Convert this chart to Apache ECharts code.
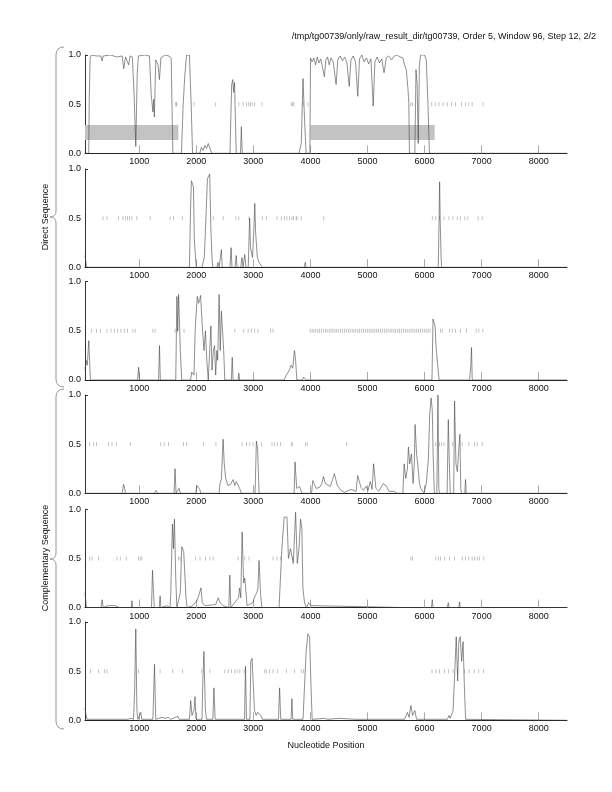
<!DOCTYPE html>
<html>
<head>
<meta charset="utf-8">
<script src="https://cdn.jsdelivr.net/npm/echarts@6/dist/echarts.min.js"></script>
<style>html,body{margin:0;padding:0;background:#fff}#c{width:612px;height:792px}</style>
</head>
<body>
<div id="c"></div>
<script>
const titleText = "/tmp/tg00739/only/raw_result_dir/tg00739, Order 5, Window 96, Step 12, 2/2";
const xTitle = "Nucleotide Position";
const groupLabels = ["Direct Sequence", "Complementary Sequence"];
const xTickValues = [1000, 2000, 3000, 4000, 5000, 6000, 7000, 8000];
const yTickValues = [0, 0.5, 1];
const xRange = [50, 8496];

// predicted coding regions (direct frame 1)
const predictedRegions = [[50, 1686], [4002, 6178]];

const direct1 = [[50,0],[115,0],[125,0.55],[140,0.97],[160,1.0],[250,0.99],[330,0.99],[350,0.94],[370,0.99],[500,1.0],[600,0.98],[700,0.99],[730,0.86],[760,0.98],[815,0.9],[840,0.99],[880,0.98],[910,0.6],[940,0.07],[965,0.8],[985,0.99],[1100,1.0],[1180,0.99],[1210,0.6],[1240,0.42],[1255,0.55],[1265,0.37],[1290,0.95],[1330,0.9],[1355,0.75],[1380,0.97],[1450,1.0],[1520,0.99],[1560,0.97],[1580,0.3],[1590,0],[1740,0],[1770,0.5],[1800,0.8],[1830,1.0],[1880,1.0],[1910,0.5],[1935,0],[2060,0],[2090,0.06],[2120,0.03],[2150,0.08],[2180,0.05],[2210,0.1],[2240,0.12],[2270,0],[2420,0],[2440,0.02],[2470,0],[2590,0],[2620,0.7],[2640,0.75],[2655,0.62],[2670,0.72],[2700,0],[2775,0],[2790,0.27],[2805,0],[3800,0],[3840,0.1],[3870,0.76],[3900,0.3],[3925,0],[3990,0],[4002,0.97],[4030,0.93],[4060,0.97],[4090,0.9],[4120,0.98],[4150,0.92],[4180,0.96],[4210,0.88],[4245,0.78],[4270,0.95],[4300,0.98],[4330,0.9],[4360,0.97],[4400,0.93],[4450,0.7],[4480,0.95],[4520,0.99],[4560,0.94],[4600,0.98],[4640,0.92],[4680,0.68],[4710,0.95],[4750,0.99],[4790,0.93],[4830,0.58],[4860,0.96],[4900,1.0],[4940,0.93],[4980,0.97],[5020,0.91],[5060,0.96],[5100,0.48],[5130,0.93],[5170,0.98],[5210,0.92],[5250,0.96],[5290,0.82],[5330,0.97],[5370,0.99],[5420,0.95],[5470,0.99],[5520,1.0],[5570,0.98],[5620,0.97],[5650,0.9],[5680,0.85],[5710,0.65],[5725,0.5],[5735,0],[5830,0],[5850,0.85],[5870,0.7],[5890,0.1],[5910,0.9],[5930,1.0],[6000,1.0],[6030,0.95],[6060,0.5],[6085,0],[8496,0]];

const direct2 = [[50,0.12],[65,0.1],[80,0],[1320,0],[1340,0.02],[1360,0],[1650,0],[1660,0.02],[1670,0],[1880,0],[1900,0.6],[1915,0.88],[1935,0.87],[1950,0.82],[1965,0.3],[1980,0.15],[2000,0],[2100,0],[2120,0.05],[2140,0.1],[2155,0.3],[2175,0.6],[2195,0.9],[2215,0.88],[2235,0.95],[2255,0.4],[2275,0.1],[2290,0],[2360,0],[2380,0.05],[2400,0],[2420,0],[2440,0.18],[2455,0],[2590,0],[2610,0.2],[2625,0],[2680,0],[2700,0.12],[2715,0],[2780,0],[2800,0.1],[2820,0],[2850,0.13],[2870,0],[2910,0],[2935,0.5],[2950,0.2],[2985,0.1],[3010,0.4],[3025,0.65],[3040,0.35],[3070,0.1],[3100,0.05],[3160,0],[3890,0],[3910,0.05],[3925,0],[6240,0],[6255,0.5],[6264,0.87],[6275,0.45],[6290,0.1],[6300,0],[8496,0]];

const direct3 = [[50,0.1],[70,0.2],[90,0.15],[116,0.4],[130,0.2],[145,0],[970,0],[990,0.13],[1005,0],[1340,0],[1355,0.35],[1370,0],[1640,0],[1660,0.85],[1675,0.5],[1690,0.87],[1705,0.6],[1720,0.3],[1745,0],[1900,0],[1920,0.08],[1945,0.1],[1960,0.05],[1980,0.5],[2000,0.7],[2018,0.85],[2040,0.78],[2060,0.82],[2076,0.86],[2095,0.65],[2110,0.5],[2135,0.3],[2160,0.5],[2185,0.2],[2210,0],[2230,0],[2256,0.55],[2275,0.1],[2300,0.3],[2320,0.35],[2340,0.05],[2360,0.3],[2375,0.2],[2400,0.87],[2420,0.3],[2440,0.7],[2460,0.7],[2480,0.3],[2500,0],[2615,0],[2630,0.23],[2645,0],[2735,0],[2745,0.07],[2760,0],[3540,0],[3580,0.05],[3630,0.1],[3660,0.15],[3690,0.12],[3720,0.3],[3740,0.2],[3763,0],[3860,0],[3880,0.03],[3910,0.05],[3925,0],[6130,0],[6148,0.62],[6170,0.63],[6185,0.55],[6200,0.35],[6230,0.15],[6255,0],[6790,0],[6810,0.15],[6823,0.33],[6835,0],[8496,0]];

const comp1 = [[50,0],[700,0],[727,0.09],[745,0.05],[760,0],[1270,0],[1290,0.03],[1310,0.02],[1330,0],[1610,0],[1628,0.25],[1645,0],[1700,0.05],[1720,0],[1990,0],[2010,0.08],[2035,0.08],[2060,0.04],[2080,0],[2400,0],[2415,0.1],[2440,0.14],[2470,0.55],[2490,0.3],[2515,0.15],[2555,0.08],[2600,0.09],[2645,0.14],[2675,0.08],[2700,0.12],[2760,0.05],[2790,0],[3030,0],[3053,0.53],[3075,0.45],[3100,0],[3715,0],[3730,0.32],[3760,0.05],[3810,0.07],[3850,0],[4020,0],[4042,0.13],[4100,0.05],[4160,0.06],[4200,0.1],[4230,0.17],[4260,0.1],[4290,0.12],[4350,0.07],[4380,0.05],[4420,0.2],[4470,0.08],[4537,0.03],[4595,0.01],[4711,0.04],[4800,0.02],[4828,0.18],[4886,0.06],[4930,0.03],[4973,0.07],[5010,0.03],[5049,0.12],[5080,0.04],[5107,0.3],[5147,0.05],[5200,0.02],[5276,0.1],[5322,0.08],[5380,0.02],[5467,0.02],[5520,0],[5620,0],[5642,0.3],[5670,0.15],[5700,0.25],[5717,0.47],[5740,0.3],[5770,0.4],[5799,0.1],[5820,0.3],[5834,0.7],[5860,0.4],[5880,0.3],[5910,0.1],[5935,0.05],[5991,0],[6030,0.1],[6067,0.35],[6090,0.8],[6115,0.97],[6135,0.85],[6150,0.4],[6171,0],[6215,0],[6235,1.0],[6250,0.05],[6260,0],[6395,0],[6416,0.75],[6435,0.3],[6450,0],[6510,0],[6526,0.94],[6550,0.3],[6575,0.22],[6600,0.45],[6619,0.6],[6635,0.05],[6645,0],[6705,0],[6718,0.14],[6730,0],[8496,0]];

const comp2 = [[50,0.15],[75,0],[330,0],[350,0.08],[370,0],[450,0.02],[580,0.02],[650,0],[860,0],[872,0.07],[885,0],[1215,0],[1233,0.38],[1250,0.15],[1265,0],[1350,0],[1366,0.12],[1380,0],[1480,0.02],[1500,0],[1540,0],[1553,0.15],[1582,0.85],[1600,0.6],[1617,0.9],[1640,0.3],[1660,0],[1720,0.15],[1745,0.62],[1780,0.57],[1800,0.55],[1820,0.1],[1840,0],[1940,0.02],[1960,0],[2020,0.08],[2082,0.2],[2105,0.05],[2150,0.02],[2170,0],[2340,0.03],[2385,0.1],[2415,0.05],[2445,0.06],[2470,0.02],[2500,0],[2570,0],[2588,0.33],[2605,0],[2740,0.1],[2760,0.2],[2780,0.1],[2803,0.77],[2830,0.25],[2850,0.3],[2890,0.02],[2990,0.05],[3030,0.12],[3060,0.15],[3080,0.2],[3100,0.48],[3125,0.15],[3150,0],[3450,0],[3475,0.3],[3500,0.6],[3540,0.92],[3560,0.9],[3589,0.92],[3615,0.5],[3650,0.6],[3700,0.45],[3740,0.97],[3770,0.45],[3800,0.6],[3827,0.9],[3850,0.8],[3868,0.2],[3897,0.05],[3930,0],[3970,0.05],[3990,0.07],[4010,0.02],[4030,0],[5680,0],[5700,0.02],[5720,0],[6120,0],[6136,0.08],[6150,0],[6400,0],[6416,0.05],[6430,0],[6600,0],[6613,0.06],[6625,0],[8496,0]];

const comp3 = [[50,0.12],[70,0.05],[85,0.01],[800,0.01],[860,0.02],[900,0.01],[920,0.3],[940,0.93],[960,0.1],[975,0.01],[1030,0.08],[1045,0.01],[1240,0.01],[1268,0.57],[1290,0.01],[1400,0.03],[1450,0.02],[1510,0.03],[1550,0.01],[1680,0.04],[1700,0.01],[1880,0.01],[1902,0.2],[1925,0.05],[1960,0.1],[1977,0.24],[1995,0.01],[2100,0.01],[2115,0.4],[2134,0.7],[2160,0.1],[2180,0.01],[2290,0.01],[2309,0.33],[2330,0.01],[2845,0.01],[2862,0.55],[2880,0.01],[2940,0.01],[2955,0.6],[2978,0.63],[2995,0.65],[3020,0.1],[3050,0.05],[3075,0.08],[3130,0.05],[3160,0.01],[3440,0.01],[3460,0.33],[3480,0.01],[3660,0.01],[3676,0.22],[3690,0.01],[3870,0.01],[3897,0.35],[3925,0.7],[3955,0.88],[3985,0.85],[4010,0.35],[4030,0.01],[4250,0.02],[4300,0.01],[4500,0.02],[4800,0.01],[5650,0.01],[5700,0.08],[5730,0.03],[5760,0.15],[5790,0.05],[5830,0.1],[5860,0.01],[6400,0.01],[6430,0.05],[6450,0.02],[6500,0.1],[6530,0.5],[6555,0.85],[6580,0.4],[6600,0.8],[6625,0.85],[6650,0.6],[6675,0.8],[6700,0.3],[6720,0.01],[8496,0]];

// stop codon positions per frame (drawn at 0.5)
const stopsDirect1 = [1640,1650,1660,1960,2340,2745,2820,2880,2920,2950,2980,3020,3150,3665,3690,3710,3870,3955,5760,5790,6125,6195,6253,6323,6398,6474,6543,6648,6718,6776,6834,7026];
const stopsDirect2 = [366,436,639,715,756,796,831,872,959,1192,1541,1599,1756,2297,2472,2693,2745,2925,3158,3228,3414,3490,3548,3589,3635,3676,3705,3751,3763,3839,4234,6136,6195,6264,6340,6427,6497,6573,6631,6706,6759,6939,7009];
const stopsDirect3 = [162,250,319,436,506,564,622,680,738,796,889,930,1239,1279,1628,1669,1785,2675,2832,2908,2966,3024,3082,3303,3344,3995,4030,4062,4095,4128,4160,4195,4228,4262,4293,4330,4362,4395,4430,4461,4497,4528,4562,4596,4630,4663,4695,4731,4762,4796,4830,4862,4897,4930,4961,4996,5030,5063,5095,5130,5162,5195,5230,5263,5296,5330,5361,5396,5428,5463,5495,5530,5562,5596,5629,5663,5695,5729,5762,5795,5830,5863,5896,5930,5962,5996,6029,6062,6096,6282,6311,6439,6485,6543,6631,6736,6904,6951,7021];
const stopsComp1 = [133,203,250,465,523,599,843,1378,1436,1512,1774,1832,2123,2344,2803,2879,2937,2995,3141,3327,3373,3420,3478,3664,3682,3914,3943,4636,6195,6264,6299,6340,6485,6660,6776,6875,6922,7009];
const stopsComp2 = [133,174,290,610,668,773,988,1017,1047,1686,1715,1989,2065,2163,2239,2297,2733,2850,2925,3344,3414,3472,3693,5758,5787,6195,6241,6282,6352,6439,6526,6660,6718,6776,6834,6875,6922,6962,7038];
const stopsComp3 = [145,290,389,436,988,1366,1588,1762,2094,2239,2501,2559,2617,2675,2716,2763,2838,3199,3228,3286,3344,3420,3577,3722,3839,3879,6130,6200,6260,6350,6420,6500,6580,6700,6780,6870,6950,7030];

const panels = [
  {line: direct1, stops: stopsDirect1},
  {line: direct2, stops: stopsDirect2},
  {line: direct3, stops: stopsDirect3},
  {line: comp1, stops: stopsComp1},
  {line: comp2, stops: stopsComp2},
  {line: comp3, stops: stopsComp3}
];

const FONT = 'Liberation Sans, Arial, sans-serif';
const gridTops = [55, 169, 281.7, 395, 509.3, 622];
const gridH = 98.3;

const grids = [], xAxes = [], yAxes = [], series = [];
panels.forEach((p, i) => {
  grids.push({left: 85, width: 482, top: gridTops[i], height: gridH});
  xAxes.push({
    gridIndex: i, type: 'value', min: xRange[0], max: xRange[1],
    axisLine: {show: true, lineStyle: {color: '#222', width: 1}},
    axisTick: {show: true, inside: true, length: 8, customValues: xTickValues, lineStyle: {color: '#aaa', width: 1}},
    axisLabel: {show: true, customValues: xTickValues, fontSize: 9, color: '#111', margin: 4, fontFamily: FONT, formatter: v => String(v)},
    splitLine: {show: false}
  });
  yAxes.push({
    gridIndex: i, type: 'value', min: 0, max: 1, interval: 0.5,
    axisLine: {show: true, lineStyle: {color: '#333', width: 1}},
    axisTick: {show: true, inside: true, length: 3, customValues: [1], lineStyle: {color: '#333'}},
    axisLabel: {show: true, customValues: yTickValues, fontSize: 9, color: '#111', margin: 4, fontFamily: FONT, formatter: v => v.toFixed(1)},
    splitLine: {show: false}
  });
  const lineSeries = {
    type: 'line', xAxisIndex: i, yAxisIndex: i, data: p.line, showSymbol: false,
    lineStyle: {color: '#444', width: 0.6}, silent: true, z: 3
  };
  if (i === 0) {
    lineSeries.markArea = {
      silent: true,
      itemStyle: {color: '#c3c3c3', opacity: 1},
      data: predictedRegions.map(r => [{xAxis: r[0], yAxis: 0.135}, {xAxis: r[1], yAxis: 0.288}])
    };
  }
  series.push(lineSeries);
  series.push({
    type: 'scatter', xAxisIndex: i, yAxisIndex: i, data: p.stops.map(s => [s, 0.5]),
    symbol: 'rect', symbolSize: [0.8, 4], itemStyle: {color: '#a0a0a0'}, silent: true, z: 2
  });
});

function brace(top, bottom, tipX, lineX, endX) {
  const mid = (top + bottom) / 2;
  const st = {stroke: '#999', fill: null, lineWidth: 1};
  return [
    {type: 'bezierCurve', shape: {x1: endX, y1: top, cpx1: lineX, cpy1: top, x2: lineX, y2: top + 8}, style: st},
    {type: 'line', shape: {x1: lineX, y1: top + 8, x2: lineX, y2: mid - 6}, style: st},
    {type: 'bezierCurve', shape: {x1: lineX, y1: mid - 6, cpx1: lineX, cpy1: mid, x2: tipX, y2: mid}, style: st},
    {type: 'bezierCurve', shape: {x1: tipX, y1: mid, cpx1: lineX, cpy1: mid, x2: lineX, y2: mid + 6}, style: st},
    {type: 'line', shape: {x1: lineX, y1: mid + 6, x2: lineX, y2: bottom - 8}, style: st},
    {type: 'bezierCurve', shape: {x1: lineX, y1: bottom - 8, cpx1: lineX, cpy1: bottom, x2: endX, y2: bottom}, style: st}
  ];
}

const chart = echarts.init(document.getElementById('c'), null, {renderer: 'canvas'});
chart.setOption({
  animation: false,
  backgroundColor: '#fff',
  grid: grids, xAxis: xAxes, yAxis: yAxes, series: series,
  graphic: [
    {type: 'text', x: 596, y: 37, style: {text: titleText, font: '9px ' + FONT, fill: '#111', align: 'right', verticalAlign: 'middle'}},
    {type: 'text', x: 326, y: 746, style: {text: xTitle, font: '9px ' + FONT, fill: '#111', align: 'center', verticalAlign: 'middle'}},
    ...brace(47, 387, 50, 56, 64),
    ...brace(389, 729, 50, 56, 64),
    {type: 'text', x: 46, y: 217, rotation: Math.PI / 2, style: {text: groupLabels[0], font: '9px ' + FONT, fill: '#111', align: 'center', verticalAlign: 'middle'}},
    {type: 'text', x: 46, y: 558, rotation: Math.PI / 2, style: {text: groupLabels[1], font: '9px ' + FONT, fill: '#111', align: 'center', verticalAlign: 'middle'}}
  ]
});
</script>
</body>
</html>
